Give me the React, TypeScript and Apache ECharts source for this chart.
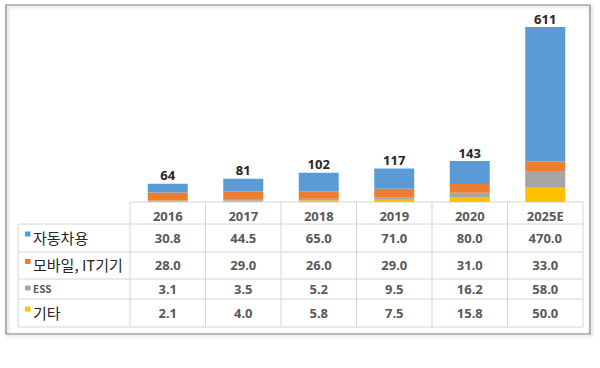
import React, { useEffect, useRef } from 'react';
import * as echarts from 'echarts';

const years = ['2016', '2017', '2018', '2019', '2020', '2025E'];
const seriesNames = ['자동차용', '모바일, IT기기', 'ESS', '기타'];
const autoValues = [30.8, 44.5, 65.0, 71.0, 80.0, 470.0];
const mobileValues = [28.0, 29.0, 26.0, 29.0, 31.0, 33.0];
const essValues = [3.1, 3.5, 5.2, 9.5, 16.2, 58.0];
const etcValues = [2.1, 4.0, 5.8, 7.5, 15.8, 50.0];
const totals = [64, 81, 102, 117, 143, 611];
const colors = ['#5B9BD5', '#ED7D31', '#A5A5A5', '#FFC000'];

const W = 600;
const H = 368;
const GRID_LEFT = 130;
const GRID_RIGHT_X = 583;
const GRID_TOP = 27;
const GRID_BOTTOM_Y = 202;
const TABLE_LEFT = 18;
const ROW_EDGES = [202, 224, 252, 279, 299, 327];
const LABEL_SIZES = [15, 15, 10, 15];
const NUM_FONT = '"Noto Sans", "Open Sans", sans-serif';
const KR_FONT = '"Noto Sans CJK KR", "Noto Sans", sans-serif';

export default function App() {
  const ref = useRef<HTMLDivElement>(null);

  useEffect(() => {
    if (!ref.current) return;
    const chart = echarts.init(ref.current, null, { renderer: 'svg', width: W, height: H });
    const rows = [autoValues, mobileValues, essValues, etcValues];
    const stackOrder = [3, 2, 1, 0];

    chart.setOption({
      animation: false,
      backgroundColor: '#ffffff',
      grid: {
        left: GRID_LEFT,
        right: W - GRID_RIGHT_X,
        top: GRID_TOP,
        bottom: H - GRID_BOTTOM_Y,
        containLabel: false,
      },
      xAxis: {
        type: 'category',
        data: years,
        axisLine: { show: false },
        axisTick: { show: false },
        axisLabel: {
          show: true,
          margin: 7,
          fontSize: 13,
          fontWeight: 'bold',
          color: '#595959',
          fontFamily: NUM_FONT,
        },
      },
      yAxis: {
        type: 'value',
        min: 0,
        max: 611,
        show: false,
        splitLine: { show: false },
      },
      series: stackOrder.map((idx) => ({
        name: seriesNames[idx],
        type: 'bar',
        stack: 'total',
        barWidth: 40,
        data: rows[idx],
        itemStyle: { color: colors[idx] },
        label:
          idx === 0
            ? {
                show: true,
                position: 'top',
                distance: 2,
                formatter: (p: any) => String(totals[p.dataIndex]),
                fontSize: 13,
                fontWeight: 'bold',
                color: '#262626',
                fontFamily: NUM_FONT,
              }
            : { show: false },
      })),
    });

    const centers = years.map((_, i) => chart.convertToPixel({ xAxisIndex: 0 }, i) as number);
    const band = centers.length > 1 ? centers[1] - centers[0] : 75;
    const colEdges = [centers[0] - band / 2, ...centers.map((c) => c + band / 2)];
    const right = colEdges[colEdges.length - 1];
    const lineStyle = { stroke: '#d6d6d6', lineWidth: 1 };

    const graphics: any[] = [];
    // outer frame
    graphics.push({
      type: 'rect',
      shape: { x: 6, y: 5, width: 584, height: 329 },
      style: {
        fill: 'none',
        stroke: '#808080',
        lineWidth: 1.2,
        shadowBlur: 3,
        shadowOffsetX: 1.5,
        shadowOffsetY: 1.5,
        shadowColor: 'rgba(0,0,0,0.25)',
      },
      z: 0,
      silent: true,
    });
    // horizontal lines
    ROW_EDGES.forEach((y, i) => {
      graphics.push({
        type: 'line',
        shape: { x1: i === 0 ? colEdges[0] : TABLE_LEFT, y1: y, x2: right, y2: y },
        style: lineStyle,
        silent: true,
      });
    });
    // vertical lines
    graphics.push({
      type: 'line',
      shape: { x1: TABLE_LEFT, y1: ROW_EDGES[1], x2: TABLE_LEFT, y2: ROW_EDGES[ROW_EDGES.length - 1] },
      style: lineStyle,
      silent: true,
    });
    colEdges.forEach((x) => {
      graphics.push({
        type: 'line',
        shape: { x1: x, y1: ROW_EDGES[0], x2: x, y2: ROW_EDGES[ROW_EDGES.length - 1] },
        style: lineStyle,
        silent: true,
      });
    });
    // row labels and values
    rows.forEach((vals, r) => {
      const yc = (ROW_EDGES[r + 1] + ROW_EDGES[r + 2]) / 2 - 1;
      const big = LABEL_SIZES[r] > 12;
      graphics.push({
        type: 'rect',
        shape: { x: 25, y: big ? yc - 5.5 : yc - 2.5, width: 5.5, height: 5 },
        style: { fill: colors[r] },
        silent: true,
      });
      graphics.push({
        type: 'text',
        x: 33,
        y: yc,
        style: {
          text: seriesNames[r],
          fontSize: LABEL_SIZES[r],
          fontFamily: KR_FONT,
          fontWeight: big ? 'normal' : 'bold',
          fill: big ? '#262626' : '#595959',
          verticalAlign: 'middle',
          align: 'left',
        },
        silent: true,
      });
      vals.forEach((v, c) => {
        graphics.push({
          type: 'text',
          x: centers[c],
          y: yc + 0.5,
          style: {
            text: v.toFixed(1),
            fontSize: 13,
            fontFamily: NUM_FONT,
            fontWeight: 'bold',
            fill: '#595959',
            align: 'center',
            verticalAlign: 'middle',
          },
          silent: true,
        });
      });
    });

    chart.setOption({ graphic: { elements: graphics } });

    return () => chart.dispose();
  }, []);

  return (
    <div
      ref={ref}
      style={{ position: 'absolute', left: 0, top: 0, width: W, height: H, background: '#fff' }}
    />
  );
}
